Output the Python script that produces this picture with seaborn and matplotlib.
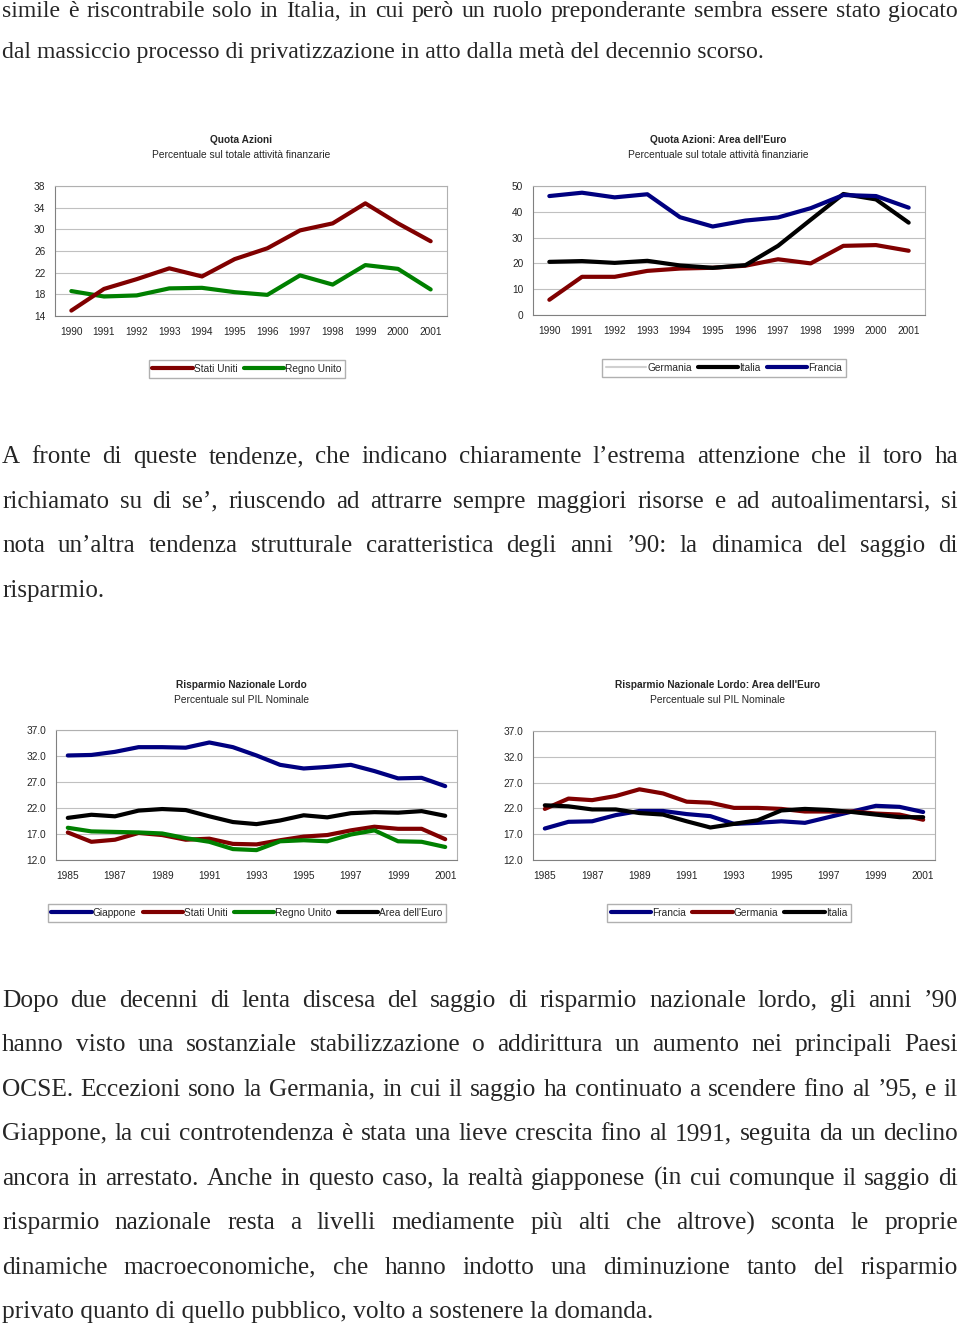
import numpy as np
import pandas as pd
import matplotlib
matplotlib.use("Agg")
import matplotlib.pyplot as plt
from matplotlib.lines import Line2D
from matplotlib.ticker import FormatStrFormatter
import seaborn as sns

# --- dati ---
anni_azioni = ["1990", "1991", "1992", "1993", "1994", "1995",
               "1996", "1997", "1998", "1999", "2000", "2001"]
usa_azioni = [15.0, 19.0, 20.8, 22.8, 21.3, 24.5, 26.5, 29.8, 31.1, 34.8, 31.1, 27.8]
uk_azioni = [18.6, 17.6, 17.8, 19.1, 19.2, 18.4, 17.9, 21.5, 19.8, 23.4, 22.7, 18.9]
germania_azioni = [5.9, 14.8, 14.8, 17.1, 18.0, 18.3, 19.1, 21.6, 20.0, 26.8, 27.1, 24.9]
italia_azioni = [20.6, 20.9, 20.2, 21.0, 19.2, 18.3, 19.3, 26.8, 36.9, 46.9, 44.8, 35.8]
francia_azioni = [46.1, 47.4, 45.6, 46.8, 37.9, 34.3, 36.6, 37.8, 41.4, 46.5, 46.1, 41.6]

anni_risparmio = ["1985", "1986", "1987", "1988", "1989", "1990", "1991", "1992", "1993",
                  "1994", "1995", "1996", "1997", "1998", "1999", "2000", "2001"]
giappone_risp = [32.1, 32.2, 32.8, 33.7, 33.7, 33.6, 34.6, 33.7, 32.1,
                 30.3, 29.6, 29.9, 30.3, 29.1, 27.7, 27.8, 26.2]
usa_risp = [17.3, 15.5, 15.9, 17.2, 16.8, 15.9, 16.1, 15.1, 15.0,
            15.8, 16.5, 16.8, 17.7, 18.4, 18.0, 18.0, 16.0]
uk_risp = [18.2, 17.5, 17.4, 17.3, 17.1, 16.2, 15.5, 14.1, 13.9,
           15.6, 15.8, 15.6, 16.9, 17.7, 15.6, 15.5, 14.5]
euro_risp = [20.1, 20.7, 20.4, 21.5, 21.8, 21.6, 20.4, 19.3, 18.9,
             19.6, 20.6, 20.2, 21.0, 21.2, 21.1, 21.4, 20.5]
francia_risp = [18.1, 19.4, 19.5, 20.7, 21.5, 21.5, 20.9, 20.5, 19.0,
                19.2, 19.5, 19.2, 20.3, 21.4, 22.5, 22.3, 21.3]
germania_risp = [21.9, 23.9, 23.6, 24.4, 25.7, 24.9, 23.3, 23.1, 22.1,
                 22.1, 21.9, 21.4, 21.4, 21.4, 21.0, 20.8, 19.8]
italia_risp = [22.6, 22.4, 21.8, 21.8, 21.1, 20.8, 19.5, 18.3, 19.0,
               19.7, 21.6, 21.9, 21.7, 21.3, 20.8, 20.3, 20.3]

ROSSO, VERDE, BLU, NERO = "#800000", "#008000", "#000080", "#000000"

sns.set_style("white")
plt.rcParams["font.family"] = ["Liberation Sans", "DejaVu Sans"]

W, H = 960, 1326
fig = plt.figure(figsize=(W / 100, H / 100), dpi=100)
renderer = fig.canvas.get_renderer()

SERIF = ["Liberation Serif", "DejaVu Serif"]
X0, X1 = 2, 958


def riga(testo, yb, fs, giustifica=True):
    if not giustifica:
        fig.text(X0 / W, 1 - yb / H, testo, fontsize=fs, family=SERIF, va="baseline")
        return
    parole = testo.split(" ")
    pezzi = [fig.text(0, 1 - yb / H, p, fontsize=fs, family=SERIF, va="baseline")
             for p in parole]
    larg = [t.get_window_extent(renderer).width for t in pezzi]
    spazio = (X1 - X0 - sum(larg)) / (len(parole) - 1)
    x = X0
    for t, w in zip(pezzi, larg):
        t.set_x(x / W)
        x += w + spazio


def grafico(box, anni, serie, yticks, fmt, passo_label):
    l, r, t, b = box
    ax = fig.add_axes([l / W, 1 - b / H, (r - l) / W, (b - t) / H])
    righe = []
    for nome, (valori, colore) in serie.items():
        for i, v in enumerate(valori):
            righe.append({"pos": i, "valore": v, "serie": nome})
    df = pd.DataFrame(righe)
    palette = {n: c for n, (v, c) in serie.items()}
    sns.lineplot(data=df, x="pos", y="valore", hue="serie", hue_order=list(serie),
                 palette=palette, lw=3, legend=False, ax=ax, sort=False)
    n = len(anni)
    ax.set_xlim(-0.5, n - 0.5)
    ax.set_ylim(yticks[0], yticks[-1])
    ax.set_yticks(yticks)
    ax.yaxis.set_major_formatter(FormatStrFormatter(fmt))
    pos = list(range(0, n, passo_label))
    ax.set_xticks(pos)
    ax.set_xticklabels([anni[i] for i in pos])
    ax.set_xticks([i - 0.5 for i in range(1, n)], minor=True)
    ax.tick_params(axis="x", which="major", length=0, pad=8, labelsize=7.3)
    ax.tick_params(axis="x", which="minor", length=3, color="#808080", direction="out")
    ax.tick_params(axis="y", length=3, color="#808080", direction="out", pad=4, labelsize=7.3)
    ax.grid(axis="y", color="#c0c0c0", lw=0.8)
    ax.grid(axis="x", visible=False)
    for s in ax.spines.values():
        s.set_color("#b0b0b0")
        s.set_linewidth(0.8)
    ax.spines["left"].set_color("#808080")
    ax.spines["bottom"].set_color("#808080")
    ax.set_xlabel("")
    ax.set_ylabel("")
    return ax


def titolo(cx, y, t1, t2):
    fig.text(cx / W, 1 - y / H, t1, ha="center", va="center", fontsize=7.3, fontweight="bold")
    fig.text(cx / W, 1 - (y + 15) / H, t2, ha="center", va="center", fontsize=7.4)


def legenda(cx, cy, voci):
    handles = [Line2D([], [], color=c, lw=lw) for _, c, lw in voci]
    fig.legend(handles, [v[0] for v in voci], loc="center",
               bbox_to_anchor=(cx / W, 1 - cy / H), ncol=len(voci), fontsize=7.3,
               frameon=True, fancybox=False, edgecolor="#b0b0b0", framealpha=1,
               handlelength=4, handletextpad=0.1, columnspacing=0.6, borderpad=0.35)


# --- testo ---
riga("simile è riscontrabile solo in Italia, in cui però un ruolo preponderante sembra essere stato giocato", 17.3, 17.1)
riga("dal massiccio processo di privatizzazione in atto dalla metà del decennio scorso.", 57.7, 17.1, False)

par2 = ["A fronte di queste tendenze, che indicano chiaramente l’estrema attenzione che il toro ha",
        "richiamato su di se’, riuscendo ad attrarre sempre maggiori risorse e ad autoalimentarsi, si",
        "nota un’altra tendenza strutturale caratteristica degli anni ’90: la dinamica del saggio di",
        "risparmio."]
for k, s in enumerate(par2):
    riga(s, 463.3 + 44.5 * k, 18.0, k < len(par2) - 1)

par3 = ["Dopo due decenni di lenta discesa del saggio di risparmio nazionale lordo, gli anni ’90",
        "hanno visto una sostanziale stabilizzazione o addirittura un aumento nei principali Paesi",
        "OCSE. Eccezioni sono la Germania, in cui il saggio ha continuato a scendere fino al ’95, e il",
        "Giappone, la cui controtendenza è stata una lieve crescita fino al 1991, seguita da un declino",
        "ancora in arrestato. Anche in questo caso, la realtà giapponese (in cui comunque il saggio di",
        "risparmio nazionale resta a livelli mediamente più alti che altrove) sconta le proprie",
        "dinamiche macroeconomiche, che hanno indotto una diminuzione tanto del risparmio",
        "privato quanto di quello pubblico, volto a sostenere la domanda."]
for k, s in enumerate(par3):
    riga(s, 1006.8 + 44.5 * k, 18.3, k < len(par3) - 1)

# --- grafici ---
titolo(241, 140, "Quota Azioni", "Percentuale sul totale attività finanzarie")
grafico((55, 447, 186, 316), anni_azioni,
        {"Regno Unito": (uk_azioni, VERDE), "Stati Uniti": (usa_azioni, ROSSO)},
        [14, 18, 22, 26, 30, 34, 38], "%d", 1)
legenda(247, 369, [("Stati Uniti", ROSSO, 3), ("Regno Unito", VERDE, 3)])

titolo(718, 140, "Quota Azioni: Area dell'Euro", "Percentuale sul totale attività finanziarie")
grafico((533, 925, 186, 315), anni_azioni,
        {"Germania": (germania_azioni, ROSSO), "Italia": (italia_azioni, NERO),
         "Francia": (francia_azioni, BLU)},
        [0, 10, 20, 30, 40, 50], "%d", 1)
legenda(724, 368, [("Germania", "#d0d0d0", 1.5), ("Italia", NERO, 3), ("Francia", BLU, 3)])

titolo(241, 685, "Risparmio Nazionale Lordo", "Percentuale sul PIL Nominale")
grafico((56, 457, 730, 860), anni_risparmio,
        {"Giappone": (giappone_risp, BLU), "Stati Uniti": (usa_risp, ROSSO),
         "Regno Unito": (uk_risp, VERDE), "Area dell'Euro": (euro_risp, NERO)},
        [12, 17, 22, 27, 32, 37], "%.1f", 2)
legenda(247, 913, [("Giappone", BLU, 3), ("Stati Uniti", ROSSO, 3),
                   ("Regno Unito", VERDE, 3), ("Area dell'Euro", NERO, 3)])

titolo(718, 685, "Risparmio Nazionale Lordo: Area dell'Euro", "Percentuale sul PIL Nominale")
grafico((533, 935, 731, 860), anni_risparmio,
        {"Francia": (francia_risp, BLU), "Germania": (germania_risp, ROSSO),
         "Italia": (italia_risp, NERO)},
        [12, 17, 22, 27, 32, 37], "%.1f", 2)
legenda(729, 913, [("Francia", BLU, 3), ("Germania", ROSSO, 3), ("Italia", NERO, 3)])

fig.savefig("out.png", dpi=100)
